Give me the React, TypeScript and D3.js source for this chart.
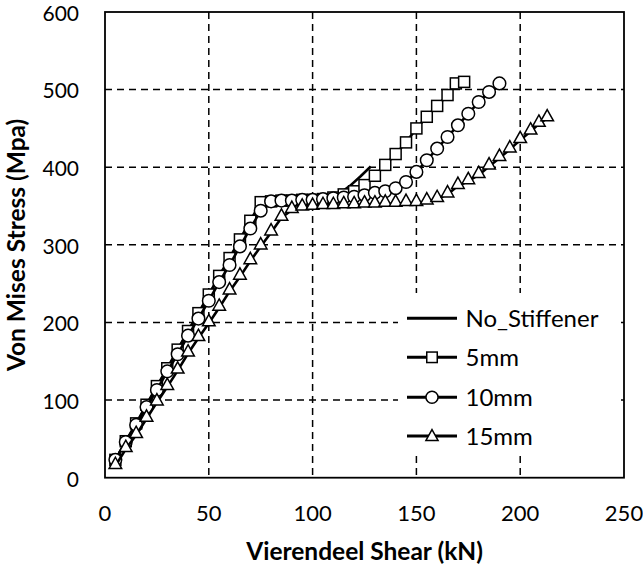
import React from 'react';
import * as d3 from 'd3';

const xTicks = [0, 50, 100, 150, 200, 250];
const yTicks = [0, 100, 200, 300, 400, 500, 600];

const noStiffX = [5, 10, 15, 20, 25, 30, 35, 40, 45, 50, 55, 60, 65, 70, 75, 80, 85, 90, 95, 100, 105, 110, 113, 118, 123, 128];
const noStiffY = [22, 46, 69, 93, 117, 140, 164, 188, 211, 235, 259, 282, 306, 330, 352, 354, 355, 356, 357, 358, 360, 362, 366, 376, 388, 401];

const mm5X = [5, 10, 15, 20, 25, 30, 35, 40, 45, 50, 55, 60, 65, 70, 75, 80, 85, 90, 95, 100, 105, 110, 115, 120, 125, 130, 135, 140, 145, 150, 155, 160, 165, 169, 173];
const mm5Y = [23, 47, 70, 94, 118, 141, 165, 189, 212, 236, 260, 283, 307, 331, 355, 356, 357, 357, 358, 358, 359, 361, 365, 369, 377, 389, 403, 417, 432, 450, 465, 479, 493, 508, 510];

const mm10X = [5, 10, 15, 20, 25, 30, 35, 40, 45, 50, 55, 60, 65, 70, 75, 80, 85, 90, 95, 100, 105, 110, 115, 120, 125, 130, 135, 140, 145, 150, 155, 160, 165, 170, 175, 180, 185, 190];
const mm10Y = [23, 46, 68, 91, 113, 137, 159, 183, 205, 228, 252, 274, 298, 321, 344, 356, 357, 357, 358, 358, 359, 360, 361, 362, 364, 367, 369, 373, 381, 394, 409, 424, 439, 454, 469, 484, 497, 508];

const mm15X = [5, 10, 15, 20, 25, 30, 35, 40, 45, 50, 55, 60, 65, 70, 75, 80, 85, 90, 95, 100, 105, 110, 115, 120, 125, 130, 135, 140, 145, 150, 155, 160, 165, 170, 175, 180, 185, 190, 195, 200, 205, 209, 213];
const mm15Y = [15, 37, 55, 76, 97, 117, 138, 160, 180, 199, 219, 240, 259, 279, 298, 316, 335, 345, 348, 349, 350, 350, 351, 351, 352, 352, 353, 353, 354, 354, 356, 359, 365, 376, 382, 390, 401, 412, 423, 435, 446, 456, 463];

const seriesNames = ['No_Stiffener', '5mm', '10mm', '15mm'];

const W = 643;
const H = 568;
const PL = 105, PR = 624, PT = 12, PB = 477.7;
const FONT = 'Lato, "Open Sans", sans-serif';

type Kind = 'none' | 'square' | 'circle' | 'triangle';

function Marker({ kind, cx, cy, s }: { kind: Kind; cx: number; cy: number; s: number }) {
  const st = { fill: '#fff', stroke: '#000', strokeWidth: 1.5 };
  if (kind === 'square') return <rect x={cx - s / 2} y={cy - s / 2} width={s} height={s} {...st} />;
  if (kind === 'circle') return <circle cx={cx} cy={cy} r={s / 2 + 0.8} {...st} />;
  if (kind === 'triangle') {
    const hw = s / 2 + 0.8;
    const d = `M${cx},${cy - s * 0.8} L${cx + hw},${cy + s * 0.23} L${cx - hw},${cy + s * 0.23} Z`;
    return <path d={d} {...st} />;
  }
  return null;
}

export default function App() {
  const x = d3.scaleLinear().domain([0, 250]).range([PL, PR]);
  const y = d3.scaleLinear().domain([0, 600]).range([PB, PT]);
  const line = d3.line<[number, number]>().x(d => x(d[0])).y(d => y(d[1]));

  const series: { xs: number[]; ys: number[]; kind: Kind }[] = [
    { xs: noStiffX, ys: noStiffY, kind: 'none' },
    { xs: mm5X, ys: mm5Y, kind: 'square' },
    { xs: mm10X, ys: mm10Y, kind: 'circle' },
    { xs: mm15X, ys: mm15Y, kind: 'triangle' },
  ];

  const legendRows = [318.3, 357.3, 397.3, 436];

  return (
    <svg width={W} height={H} style={{ position: 'absolute', left: 0, top: 0, background: '#fff' }}>
      <rect x={0} y={0} width={W} height={H} fill="#fff" />
      {/* grid */}
      {xTicks.filter(t => t > 0 && t < 250).map(t => (
        <line key={'gx' + t} x1={x(t)} x2={x(t)} y1={PT} y2={PB} stroke="#000" strokeWidth={1.5} strokeDasharray="7 5" />
      ))}
      {yTicks.filter(t => t > 0 && t < 600).map(t => (
        <line key={'gy' + t} x1={PL} x2={PR} y1={y(t)} y2={y(t)} stroke="#000" strokeWidth={1.5} strokeDasharray="7 5" />
      ))}
      {/* series */}
      {series.map((s, i) => {
        const pts = s.xs.map((v, j) => [v, s.ys[j]] as [number, number]);
        return (
          <g key={'s' + i}>
            <path d={line(pts) || ''} fill="none" stroke="#000" strokeWidth={2.6} strokeLinejoin="round" />
            {s.kind !== 'none' && pts.map((p, j) => (
              <Marker key={j} kind={s.kind} cx={x(p[0])} cy={y(p[1])} s={11} />
            ))}
          </g>
        );
      })}
      {/* legend */}
      <rect x={398} y={293} width={218} height={161} fill="#fff" />
      {seriesNames.map((n, i) => (
        <g key={'l' + i}>
          <line x1={407} x2={457} y1={legendRows[i]} y2={legendRows[i]} stroke="#000" strokeWidth={3} />
          <Marker kind={series[i].kind} cx={432} cy={legendRows[i] + (series[i].kind === 'triangle' ? 2 : 0)} s={10.5} />
          <text x={465.5} y={legendRows[i]} dy="0.36em" fontFamily={FONT} fontSize={24} fill="#000">{n}</text>
        </g>
      ))}
      {/* frame */}
      <rect x={PL} y={PT} width={PR - PL} height={PB - PT} fill="none" stroke="#000" strokeWidth={1.8} />
      {/* tick labels */}
      {xTicks.map(t => (
        <text key={'tx' + t} x={x(t)} y={521} textAnchor="middle" fontFamily={FONT} fontSize={22} fill="#000">{t}</text>
      ))}
      {yTicks.map(t => (
        <text key={'ty' + t} x={79} y={y(t)} dy="0.42em" textAnchor="end" fontFamily={FONT} fontSize={21} fill="#000">{t}</text>
      ))}
      {/* axis titles */}
      <text x={(PL + PR) / 2} y={560} textAnchor="middle" fontFamily={FONT} fontWeight="bold" fontSize={24.5} fill="#000">Vierendeel Shear (kN)</text>
      <text transform={`translate(25,${(PT + PB) / 2}) rotate(-90)`} textAnchor="middle" fontFamily={FONT} fontWeight="bold" fontSize={24.5} fill="#000">Von Mises Stress (Mpa)</text>
    </svg>
  );
}
